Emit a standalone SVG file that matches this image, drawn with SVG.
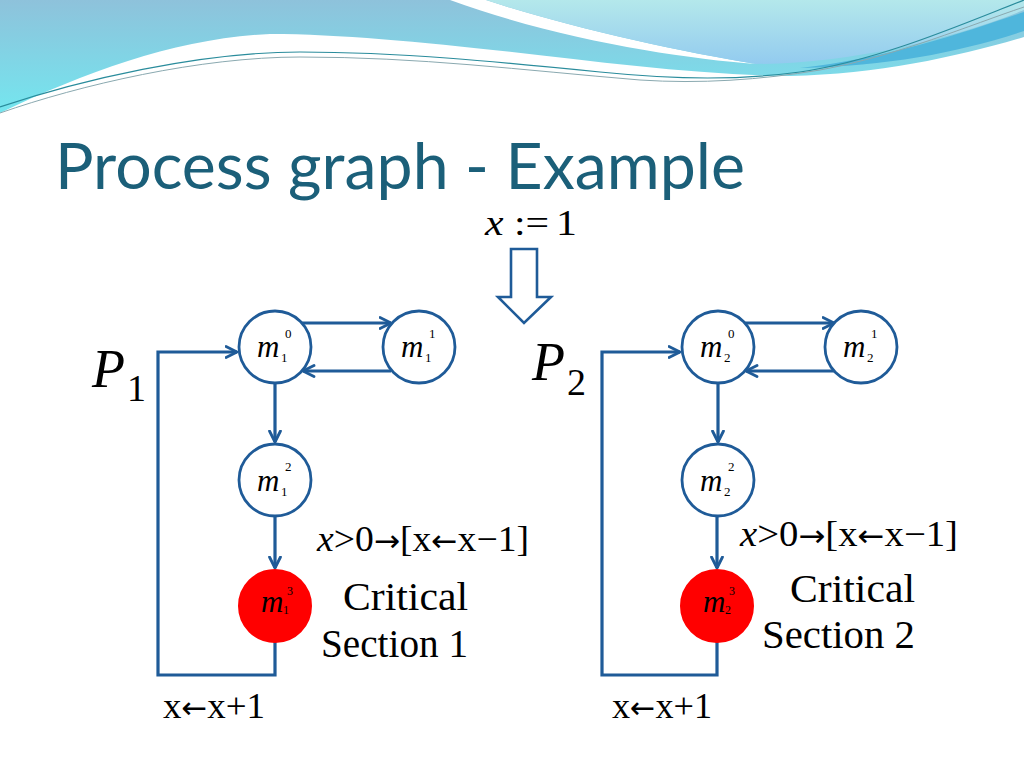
<svg xmlns="http://www.w3.org/2000/svg" width="1024" height="768" viewBox="0 0 1024 768">
<defs>
<linearGradient id="gMain" x1="0" y1="0" x2="0" y2="1">
<stop offset="0" stop-color="#8ec2db"/>
<stop offset="1" stop-color="#74e6ef"/>
</linearGradient>
<linearGradient id="gPale" x1="0" y1="0" x2="0" y2="1">
<stop offset="0" stop-color="#b4e8eb"/>
<stop offset="1" stop-color="#93cbef"/>
</linearGradient>
<marker id="arr" viewBox="0 0 14 14" refX="12.5" refY="7" markerWidth="14" markerHeight="14" markerUnits="userSpaceOnUse" orient="auto">
<path d="M1.5,1.5 L12.5,7 L1.5,12.5" fill="none" stroke="#1f5b98" stroke-width="2.8" stroke-linecap="round" stroke-linejoin="round"/>
</marker>
<style>
.edge{fill:none;stroke:#1f5b98;stroke-width:3.2;stroke-linejoin:miter}
.node{fill:#ffffff;stroke:#1f5b98;stroke-width:2.8}
.crit{fill:#ff0000;stroke:#ff0000;stroke-width:2}
.m{font-family:"Liberation Serif",serif;font-style:italic;font-size:31px;fill:#000}
.mi{font-family:"Liberation Serif",serif;font-size:13px;fill:#000}
.mi3{font-family:"Liberation Serif",serif;font-size:12px;fill:#000}
.math{font-family:"Liberation Serif",serif;font-size:36px;fill:#000}
.it{font-style:italic}
.ar{font-family:"DejaVu Sans",sans-serif;font-size:30px}
.cs{font-family:"Liberation Serif",serif;font-size:39px;fill:#000}
.big{font-family:"Liberation Serif",serif;font-size:54px;font-style:italic;fill:#000}
.sub{font-family:"Liberation Serif",serif;font-size:38px;fill:#000}
.title{font-family:Lato,"Open Sans","Liberation Sans",sans-serif;font-size:64px;fill:#1b5f79}
</style>
</defs>
<rect width="1024" height="768" fill="#ffffff"/>
<g id="banner">
<path d="M0,0 H1024 V37 C960,56 880,74 790,76 C700,75 600,62 512,52 C420,42 340,34 270,34 C180,38 90,70 0,113 Z" fill="url(#gMain)"/>
<path d="M450,0 L486,0 C560,25 680,52 756,64 C680,58 560,40 450,0 Z" fill="#ffffff"/>
<path d="M486,0 H1024 V10 C950,40 850,63 756,64 C680,52 560,25 486,0 Z" fill="url(#gPale)"/>
<path d="M800,68 C890,58 965,32 1024,12 V31 C960,52 890,66 800,68 Z" fill="#4fb6dc"/>
<path d="M0,107 C80,80 200,52 300,52 C400,52 500,62 600,72 C680,80 740,80 800,72 C880,60 960,25 1024,0" fill="none" stroke="#2a8c9c" stroke-width="1.2"/>
<path d="M0,113 C80,85 200,57 300,57 C420,57 520,70 640,80 C700,84 760,80 820,70 C900,55 970,25 1024,7" fill="none" stroke="#8aa9b0" stroke-width="1"/>
</g>
<text class="title" x="55" y="189" textLength="690" lengthAdjust="spacingAndGlyphs">Process graph - Example</text>
<g id="init">
<text class="math" x="485" y="235" font-size="38" textLength="92" lengthAdjust="spacingAndGlyphs"><tspan class="it">x</tspan> :=<tspan dx="6">1</tspan></text>
<polygon points="511,249 537,249 537,297 551,297 524,323 498,297 511,297" fill="#ffffff" stroke="#1f5b98" stroke-width="2.6" stroke-linejoin="miter"/>
</g>
<g id="connectors">
<path class="edge" d="M302,323 L391,323" marker-end="url(#arr)"/>
<path class="edge" d="M391,371 L303,371" marker-end="url(#arr)"/>
<path class="edge" d="M275,383 L275,442" marker-end="url(#arr)"/>
<path class="edge" d="M275,516 L275,568" marker-end="url(#arr)"/>
<path class="edge" d="M275,642 L275,675 L158,675 L158,352 L237,352" marker-end="url(#arr)"/>
<path class="edge" d="M745,323 L834,323" marker-end="url(#arr)"/>
<path class="edge" d="M834,371 L746,371" marker-end="url(#arr)"/>
<path class="edge" d="M718,383 L718,442" marker-end="url(#arr)"/>
<path class="edge" d="M717,516 L717,568" marker-end="url(#arr)"/>
<path class="edge" d="M717,642 L717,675 L602,675 L602,352 L680,352" marker-end="url(#arr)"/>
</g>
<g id="P1">
<text class="big" x="92" y="387">P</text>
<text class="sub" x="127" y="401">1</text>
</g>
<g id="P2">
<text class="big" x="532" y="380">P</text>
<text class="sub" x="567" y="395">2</text>
</g>
<g id="m1_0">
<circle class="node" cx="275" cy="347" r="36"/>
<text class="m" x="257" y="357">m</text>
<text class="mi" x="281" y="362">1</text>
<text class="mi" x="285" y="338">0</text>
</g>
<g id="m1_1">
<circle class="node" cx="419" cy="347" r="36"/>
<text class="m" x="401" y="357">m</text>
<text class="mi" x="425" y="362">1</text>
<text class="mi" x="429" y="338">1</text>
</g>
<g id="m1_2">
<circle class="node" cx="275" cy="480" r="36"/>
<text class="m" x="257" y="491">m</text>
<text class="mi" x="281" y="496">1</text>
<text class="mi" x="285" y="471">2</text>
</g>
<g id="m1_3">
<circle class="crit" cx="275" cy="606" r="36"/>
<text class="m" x="261" y="612" font-size="27">m</text>
<text class="mi3" x="283" y="614">1</text>
<text class="mi3" x="287" y="595">3</text>
</g>
<g id="m2_0">
<circle class="node" cx="718" cy="347" r="36"/>
<text class="m" x="700" y="357">m</text>
<text class="mi" x="724" y="362">2</text>
<text class="mi" x="728" y="338">0</text>
</g>
<g id="m2_1">
<circle class="node" cx="861" cy="347" r="36"/>
<text class="m" x="843" y="357">m</text>
<text class="mi" x="867" y="362">2</text>
<text class="mi" x="871" y="338">1</text>
</g>
<g id="m2_2">
<circle class="node" cx="718" cy="480" r="36"/>
<text class="m" x="700" y="491">m</text>
<text class="mi" x="724" y="496">2</text>
<text class="mi" x="728" y="471">2</text>
</g>
<g id="m2_3">
<circle class="crit" cx="717" cy="606" r="36"/>
<text class="m" x="703" y="612" font-size="27">m</text>
<text class="mi3" x="725" y="614">2</text>
<text class="mi3" x="729" y="595">3</text>
</g>
<g id="labels1">
<text class="math" x="317" y="551" textLength="212" lengthAdjust="spacingAndGlyphs"><tspan class="it">x</tspan>&gt;0<tspan class="ar">→</tspan>[x<tspan class="ar">←</tspan>x−1]</text>
<text class="cs" x="343" y="610" textLength="125" lengthAdjust="spacingAndGlyphs">Critical</text>
<text class="cs" x="321" y="657" textLength="147" lengthAdjust="spacingAndGlyphs">Section 1</text>
<text class="math" x="163" y="718" textLength="102" lengthAdjust="spacingAndGlyphs">x<tspan class="ar">←</tspan>x+1</text>
</g>
<g id="labels2">
<text class="math" x="740" y="546" textLength="218" lengthAdjust="spacingAndGlyphs"><tspan class="it">x</tspan>&gt;0<tspan class="ar">→</tspan>[x<tspan class="ar">←</tspan>x−1]</text>
<text class="cs" x="790" y="602" textLength="125" lengthAdjust="spacingAndGlyphs">Critical</text>
<text class="cs" x="762" y="648" textLength="153" lengthAdjust="spacingAndGlyphs">Section 2</text>
<text class="math" x="612" y="718" textLength="100" lengthAdjust="spacingAndGlyphs">x<tspan class="ar">←</tspan>x+1</text>
</g>
</svg>
